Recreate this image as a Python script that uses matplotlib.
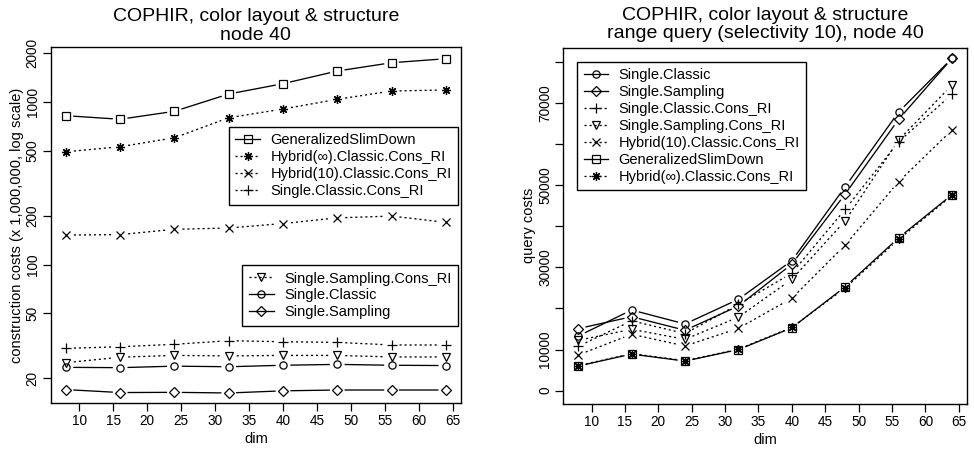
import numpy as np
import matplotlib
matplotlib.use('Agg')
import matplotlib.pyplot as plt
from matplotlib.lines import Line2D
from matplotlib.ticker import FixedLocator, FixedFormatter, NullLocator

plt.rcParams['font.family'] = ['Liberation Sans', 'DejaVu Sans']

dims = [8, 16, 24, 32, 40, 48, 56, 64]

# construction costs (x 1,000,000)
build_gsd = [826, 785, 879, 1123, 1300, 1556, 1750, 1852]
build_hyb_inf = [495, 532, 604, 802, 908, 1042, 1172, 1189]
build_hyb_10 = [152, 153, 165, 168, 179, 194, 199, 182]
build_sc_ri = [30.5, 31.2, 32.3, 34.0, 33.5, 33.2, 32.0, 32.0]
build_ss_ri = [24.9, 26.9, 27.6, 27.4, 27.6, 27.6, 27.0, 27.0]
build_sc = [23.3, 23.2, 23.7, 23.5, 24.0, 24.3, 24.0, 23.9]
build_ss = [17.0, 16.3, 16.35, 16.2, 16.7, 16.9, 16.9, 16.9]

# query costs, range query selectivity 10
query_sc = [13300, 19630, 16230, 22240, 31630, 49640, 67810, 80880]
query_ss = [15100, 18000, 14700, 20600, 30800, 47860, 66030, 80880]
query_sc_ri = [10800, 17000, 13900, 21000, 28600, 44140, 60580, 72120]
query_ss_ri = [12250, 14940, 12500, 17900, 27100, 41360, 61000, 74380]
query_hyb_10 = [8690, 13720, 10880, 15180, 22480, 35450, 50850, 63430]
query_gsd = [6000, 8900, 7200, 10000, 15300, 25300, 37200, 47700]
query_hyb_inf = [6100, 9000, 7300, 10100, 15400, 25000, 36800, 47500]

left_yticks = [20, 50, 100, 200, 500, 1000, 2000]
right_yticks = [0, 10000, 20000, 30000, 40000, 50000, 60000, 70000, 80000]
right_ylabels = ['0', '10000', '', '30000', '', '50000', '', '70000', '']
xticks = [10, 15, 20, 25, 30, 35, 40, 45, 50, 55, 60, 65]

DOT = (0, (1.6, 2.2))
LW = 0.95
STYLE = {
    'GeneralizedSlimDown': dict(marker='s', ms=5.2, ls='-'),
    'Hybrid(\u221e).Classic.Cons_RI': dict(marker=(8, 2, 0), ms=6.5, ls=DOT),
    'Hybrid(10).Classic.Cons_RI': dict(marker='x', ms=5.7, ls=DOT),
    'Single.Classic.Cons_RI': dict(marker='+', ms=7.2, ls=DOT),
    'Single.Sampling.Cons_RI': dict(marker='v', ms=5.7, ls=DOT),
    'Single.Classic': dict(marker='o', ms=5.2, ls='-'),
    'Single.Sampling': dict(marker='D', ms=4.8, ls='-'),
}

fig = plt.figure(figsize=(9.74, 4.49), dpi=100)
ax1 = fig.add_axes([50.7 / 974, 1 - 403.3 / 449, 410.3 / 974, 356 / 449])
ax2 = fig.add_axes([563.3 / 974, 1 - 404 / 449, 403.7 / 974, 356.3 / 449])


def b_line(ax, x, y, name, gap=8.0):
    # R type="b": markers with the connecting line stopping short of them
    st = STYLE[name]
    pts = ax.transData.transform(np.column_stack([x, y]))
    inv = ax.transData.inverted()
    xs, ys = [], []
    for p0, p1 in zip(pts[:-1], pts[1:]):
        d = p1 - p0
        L = np.hypot(d[0], d[1])
        if L <= 2 * gap:
            continue
        u = d / L
        seg = inv.transform(np.array([p0 + u * gap, p1 - u * gap]))
        xs += [seg[0, 0], seg[1, 0], np.nan]
        ys += [seg[0, 1], seg[1, 1], np.nan]
    ax.plot(xs, ys, color='k', lw=LW, ls=st['ls'])
    ax.plot(x, y, ls='none', marker=st['marker'], ms=st['ms'], mfc='none',
            mec='k', mew=0.9)


def handle(name):
    st = STYLE[name]
    return Line2D([], [], color='k', lw=LW, ls=st['ls'], marker=st['marker'],
                  ms=st['ms'], mfc='none', mec='k', mew=0.9)


def legend(ax, names, x, y):
    leg = ax.legend([handle(n) for n in names], names, loc='upper left',
                    bbox_to_anchor=(x / 974, 1 - y / 449),
                    bbox_transform=fig.transFigure, borderaxespad=0,
                    fontsize=10.5, labelspacing=0.2, handlelength=1.7,
                    handletextpad=0.7, borderpad=0.45, fancybox=False,
                    framealpha=1, edgecolor='k')
    leg.get_frame().set_linewidth(1.0)
    return leg


def style_axes(ax):
    for s in ax.spines.values():
        s.set_linewidth(1.0)
    ax.set_xlim(5.76, 66.24)
    ax.xaxis.set_major_locator(FixedLocator(xticks))
    ax.xaxis.set_minor_locator(NullLocator())
    ax.yaxis.set_minor_locator(NullLocator())
    ax.tick_params(direction='out', length=5.5, width=0.9, labelsize=9.8,
                   pad=7.5)
    for lab in ax.get_xticklabels():
        lab.set_va('center')
    for lab in ax.get_yticklabels():
        lab.set_rotation(90)
        lab.set_ha('center')
        lab.set_va('center')
    ax.set_xlabel('dim', fontsize=10.5)
    ax.xaxis.set_label_coords(0.5, -0.1)
    ax.xaxis.label.set_va('center')
    ax.yaxis.label.set_va('center')


# left: construction costs, log scale
ax1.set_yscale('log')
ax1.set_xlim(5.76, 66.24)
ax1.set_ylim(10 ** 1.146, 10 ** 3.338)
ax1.yaxis.set_major_locator(FixedLocator(left_yticks))
ax1.yaxis.set_major_formatter(FixedFormatter([str(t) for t in left_yticks]))
style_axes(ax1)
b_line(ax1, dims, build_gsd, 'GeneralizedSlimDown')
b_line(ax1, dims, build_hyb_inf, 'Hybrid(\u221e).Classic.Cons_RI')
b_line(ax1, dims, build_hyb_10, 'Hybrid(10).Classic.Cons_RI')
b_line(ax1, dims, build_sc_ri, 'Single.Classic.Cons_RI')
b_line(ax1, dims, build_ss_ri, 'Single.Sampling.Cons_RI')
b_line(ax1, dims, build_sc, 'Single.Classic')
b_line(ax1, dims, build_ss, 'Single.Sampling')
ax1.set_ylabel('construction costs (x 1,000,000, log scale)', fontsize=10.5)
ax1.yaxis.set_label_coords(-0.083, 0.5)
ax1.text(0.5, 1 + 21.3 / 356, 'COPHIR, color layout & structure\nnode 40',
         transform=ax1.transAxes, ha='center', va='center', fontsize=14,
         linespacing=1.1)
leg1 = legend(ax1, ['GeneralizedSlimDown', 'Hybrid(\u221e).Classic.Cons_RI',
                    'Hybrid(10).Classic.Cons_RI', 'Single.Classic.Cons_RI'],
              228.7, 126.7)
ax1.add_artist(leg1)
legend(ax1, ['Single.Sampling.Cons_RI', 'Single.Classic', 'Single.Sampling'],
       242.3, 265)

# right: query costs
ax2.set_xlim(5.76, 66.24)
ax2.set_ylim(-3240, 83450)
ax2.yaxis.set_major_locator(FixedLocator(right_yticks))
ax2.yaxis.set_major_formatter(FixedFormatter(right_ylabels))
style_axes(ax2)
b_line(ax2, dims, query_sc, 'Single.Classic')
b_line(ax2, dims, query_ss, 'Single.Sampling')
b_line(ax2, dims, query_sc_ri, 'Single.Classic.Cons_RI')
b_line(ax2, dims, query_ss_ri, 'Single.Sampling.Cons_RI')
b_line(ax2, dims, query_hyb_10, 'Hybrid(10).Classic.Cons_RI')
b_line(ax2, dims, query_gsd, 'GeneralizedSlimDown')
b_line(ax2, dims, query_hyb_inf, 'Hybrid(\u221e).Classic.Cons_RI')
ax2.set_ylabel('query costs', fontsize=10.5)
ax2.yaxis.set_label_coords(-0.086, 0.5)
ax2.text(0.5, 1 + 23.2 / 356.3,
         'COPHIR, color layout & structure\nrange query (selectivity 10), node 40',
         transform=ax2.transAxes, ha='center', va='center', fontsize=14,
         linespacing=1.1)
legend(ax2, ['Single.Classic', 'Single.Sampling', 'Single.Classic.Cons_RI',
             'Single.Sampling.Cons_RI', 'Hybrid(10).Classic.Cons_RI',
             'GeneralizedSlimDown', 'Hybrid(\u221e).Classic.Cons_RI'],
       577, 61.7)

fig.savefig('out.png', dpi=100)
